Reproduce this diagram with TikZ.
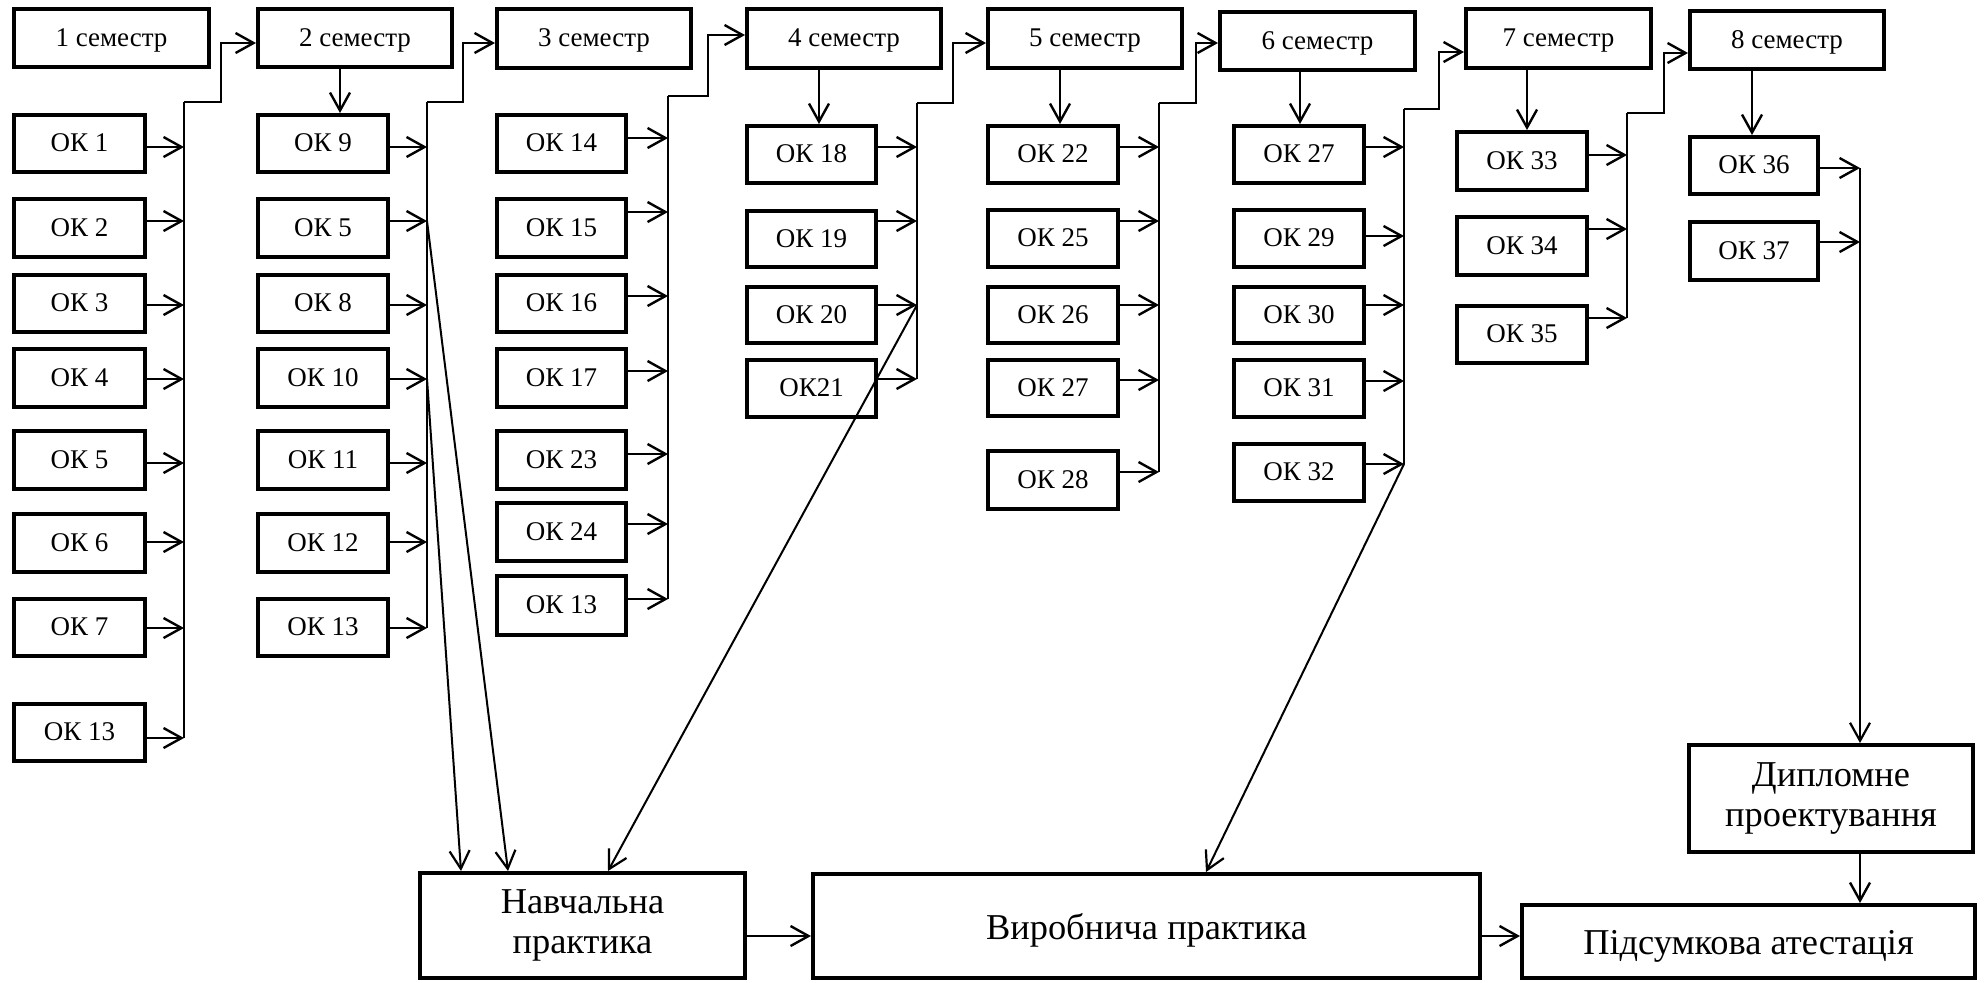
\documentclass[tikz,border=0pt]{standalone}
\usepackage{fontspec}
\setmainfont{Liberation Serif}
\usetikzlibrary{arrows.meta,calc}
\tikzset{
  bx/.style={draw, line width=2.15pt, inner sep=0pt, align=center, text height=0.8em, text depth=0pt, font=\fontsize{13.5}{16}\selectfont},
  big/.style={draw, line width=2.15pt, inner sep=0pt, align=center, font=\fontsize{18.2}{20}\selectfont, execute at begin node={\rule{0pt}{17pt}}},
  arr/.style={line width=1.2pt, -{Straight Barb[length=9pt,width=10pt,line width=1.2pt]}},
  bus/.style={line width=0.85pt},
  ln/.style={line width=1pt, -{Straight Barb[length=9pt,width=10pt,line width=1.1pt]}}
}
\newcommand\mkbox[7][bx]{\node[#1, minimum width={(#5-#3-4.3)*0.5pt}, minimum height={(#6-#4-4.3)*0.5pt}] (#2) at ({(#3+#5)/2},{(#4+#6)/2}) {#7};}
\newcommand\oka[4]{\coordinate (tmp) at (0,#3); \draw[arr] (tmp -| #1.east) -- (tmp -| #2) coordinate (#4);}
\begin{document}
\begin{tikzpicture}[x=0.5pt,y=-0.5pt]
\fill[white] (0,0) rectangle (1984,982);
\useasboundingbox (0,0) rectangle (1984,982);

% semesters
\mkbox{S1}{12}{7}{211}{69}{1 семестр}
\mkbox{S2}{256}{7}{454}{69}{2 семестр}
\mkbox{S3}{495}{7}{693}{70}{3 семестр}
\mkbox{S4}{745}{7}{943}{70}{4 семестр}
\mkbox{S5}{986}{7}{1184}{70}{5 семестр}
\mkbox{S6}{1218}{10}{1417}{72}{6 семестр}
\mkbox{S7}{1464}{7}{1653}{70}{7 семестр}
\mkbox{S8}{1688}{9}{1886}{71}{8 семестр}

% column 1
\mkbox{A1}{12}{113}{147}{174}{ОК 1}
\mkbox{A2}{12}{197}{147}{259}{ОК 2}
\mkbox{A3}{12}{273}{147}{334}{ОК 3}
\mkbox{A4}{12}{347}{147}{409}{ОК 4}
\mkbox{A5}{12}{429}{147}{491}{ОК 5}
\mkbox{A6}{12}{512}{147}{574}{ОК 6}
\mkbox{A7}{12}{597}{147}{658}{ОК 7}
\mkbox{A13}{12}{702}{147}{763}{ОК 13}
% column 2
\mkbox{B9}{256}{113}{390}{174}{ОК 9}
\mkbox{B5}{256}{197}{390}{259}{ОК 5}
\mkbox{B8}{256}{273}{390}{334}{ОК 8}
\mkbox{B10}{256}{347}{390}{409}{ОК 10}
\mkbox{B11}{256}{429}{390}{491}{ОК 11}
\mkbox{B12}{256}{512}{390}{574}{ОК 12}
\mkbox{B13}{256}{597}{390}{658}{ОК 13}
% column 3
\mkbox{C14}{495}{113}{628}{174}{ОК 14}
\mkbox{C15}{495}{197}{628}{259}{ОК 15}
\mkbox{C16}{495}{273}{628}{334}{ОК 16}
\mkbox{C17}{495}{347}{628}{409}{ОК 17}
\mkbox{C23}{495}{429}{628}{491}{ОК 23}
\mkbox{C24}{495}{501}{628}{563}{ОК 24}
\mkbox{C13}{495}{574}{628}{637}{ОК 13}
% column 4
\mkbox{D18}{745}{124}{878}{185}{ОК 18}
\mkbox{D19}{745}{209}{878}{269}{ОК 19}
\mkbox{D20}{745}{285}{878}{345}{ОК 20}
\mkbox{D21}{745}{358}{878}{419}{ОК21}
% column 5
\mkbox{E22}{986}{124}{1120}{185}{ОК 22}
\mkbox{E25}{986}{208}{1120}{269}{ОК 25}
\mkbox{E26}{986}{285}{1120}{345}{ОК 26}
\mkbox{E27}{986}{358}{1120}{418}{ОК 27}
\mkbox{E28}{986}{449}{1120}{511}{ОК 28}
% column 6
\mkbox{F27}{1232}{124}{1366}{185}{ОК 27}
\mkbox{F29}{1232}{208}{1366}{269}{ОК 29}
\mkbox{F30}{1232}{285}{1366}{345}{ОК 30}
\mkbox{F31}{1232}{358}{1366}{419}{ОК 31}
\mkbox{F32}{1232}{442}{1366}{503}{ОК 32}
% column 7
\mkbox{G33}{1455}{130}{1589}{192}{ОК 33}
\mkbox{G34}{1455}{215}{1589}{277}{ОК 34}
\mkbox{G35}{1455}{304}{1589}{365}{ОК 35}
% column 8
\mkbox{H36}{1688}{135}{1820}{196}{ОК 36}
\mkbox{H37}{1688}{220}{1820}{282}{ОК 37}
% bottom
\mkbox[big]{NP}{418}{871}{747}{980}{Навчальна\\практика}
\mkbox[big]{VP}{811}{872}{1482}{980}{Виробнича практика}
\mkbox[big]{PA}{1520}{903}{1977}{980}{Підсумкова атестація}
\mkbox[big]{DP}{1687}{743}{1975}{854}{Дипломне\\проектування}

% bus coordinates
\coordinate (bA) at (184,102); \coordinate (kA) at (221,43);
\coordinate (bB) at (427,102); \coordinate (kB) at (463,43);
\coordinate (bC) at (668,96);  \coordinate (kC) at (708,35);
\coordinate (bD) at (917,103); \coordinate (kD) at (953,43);
\coordinate (bE) at (1159,103); \coordinate (kE) at (1196,43);
\coordinate (bF) at (1404,109); \coordinate (kF) at (1439,52);
\coordinate (bG) at (1627,113); \coordinate (kG) at (1664,53);
\coordinate (bH) at (1860,168);

% arrows into buses
\oka{A1}{bA}{147}{tA1} \oka{A2}{bA}{221}{tA2} \oka{A3}{bA}{305}{tA3} \oka{A4}{bA}{379}{tA4}
\oka{A5}{bA}{463}{tA5} \oka{A6}{bA}{542}{tA6} \oka{A7}{bA}{628}{tA7} \oka{A13}{bA}{738}{tA13}
\oka{B9}{bB}{147}{tB9} \oka{B5}{bB}{221}{tB5} \oka{B8}{bB}{305}{tB8} \oka{B10}{bB}{379}{tB10}
\oka{B11}{bB}{463}{tB11} \oka{B12}{bB}{542}{tB12} \oka{B13}{bB}{628}{tB13}
\oka{C14}{bC}{138}{tC14} \oka{C15}{bC}{212}{tC15} \oka{C16}{bC}{296}{tC16} \oka{C17}{bC}{371}{tC17}
\oka{C23}{bC}{454}{tC23} \oka{C24}{bC}{524}{tC24} \oka{C13}{bC}{599}{tC13}
\oka{D18}{bD}{147}{tD18} \oka{D19}{bD}{221}{tD19} \oka{D20}{bD}{305}{tD20} \oka{D21}{bD}{379}{tD21}
\oka{E22}{bE}{147}{tE22} \oka{E25}{bE}{221}{tE25} \oka{E26}{bE}{305}{tE26} \oka{E27}{bE}{380}{tE27} \oka{E28}{bE}{472}{tE28}
\oka{F27}{bF}{147}{tF27} \oka{F29}{bF}{236}{tF29} \oka{F30}{bF}{305}{tF30} \oka{F31}{bF}{381}{tF31} \oka{F32}{bF}{464}{tF32}
\oka{G33}{bG}{155}{tG33} \oka{G34}{bG}{229}{tG34} \oka{G35}{bG}{318}{tG35}
\oka{H36}{bH}{168}{tH36} \oka{H37}{bH}{242}{tH37}

% vertical buses
\draw[bus] (bA) -- (tA13);
\draw[bus] (bB) -- (tB13);
\draw[bus] (bC) -- (tC13);
\draw[bus] (bD) -- (tD21);
\draw[bus] (bE) -- (tE28);
\draw[bus] (bF) -- (tF32);
\draw[bus] (bG) -- (tG35);

% bus to next semester
\draw[arr] (bA) -| (kA) -- (kA -| S2.west);
\draw[arr] (bB) -| (kB) -- (kB -| S3.west);
\draw[arr] (bC) -| (kC) -- (kC -| S4.west);
\draw[arr] (bD) -| (kD) -- (kD -| S5.west);
\draw[arr] (bE) -| (kE) -- (kE -| S6.west);
\draw[arr] (bF) -| (kF) -- (kF -| S7.west);
\draw[arr] (bG) -| (kG) -- (kG -| S8.west);

% semester down arrows
\coordinate (dB) at (340,0);  \draw[arr] (dB |- S2.south) -- (dB |- B9.north);
\coordinate (dD) at (819,0);  \draw[arr] (dD |- S4.south) -- (dD |- D18.north);
\coordinate (dE) at (1060,0); \draw[arr] (dE |- S5.south) -- (dE |- E22.north);
\coordinate (dF) at (1300,0); \draw[arr] (dF |- S6.south) -- (dF |- F27.north);
\coordinate (dG) at (1527,0); \draw[arr] (dG |- S7.south) -- (dG |- G33.north);
\coordinate (dH) at (1752,0); \draw[arr] (dH |- S8.south) -- (dH |- H36.north);

% long connectors
\coordinate (xN1) at (461,0); \coordinate (xN2) at (508,0);
\coordinate (xN3) at (608,0); \coordinate (xV) at (1206,0);
\draw[ln] (tB10) -- (xN1 |- NP.north);
\draw[ln] (tB5) -- (xN2 |- NP.north);
\draw[ln] (tD20) -- (xN3 |- NP.north);
\draw[ln] (tF32) -- (xV |- VP.north);
\draw[ln] (tH36) -- (tH36 |- DP.north);
\draw[arr] (tH36 |- DP.south) -- (tH36 |- PA.north);
\coordinate (hh) at (0,936);
\draw[arr] (hh -| NP.east) -- (hh -| VP.west);
\draw[arr] (hh -| VP.east) -- (hh -| PA.west);
\end{tikzpicture}
\end{document}
